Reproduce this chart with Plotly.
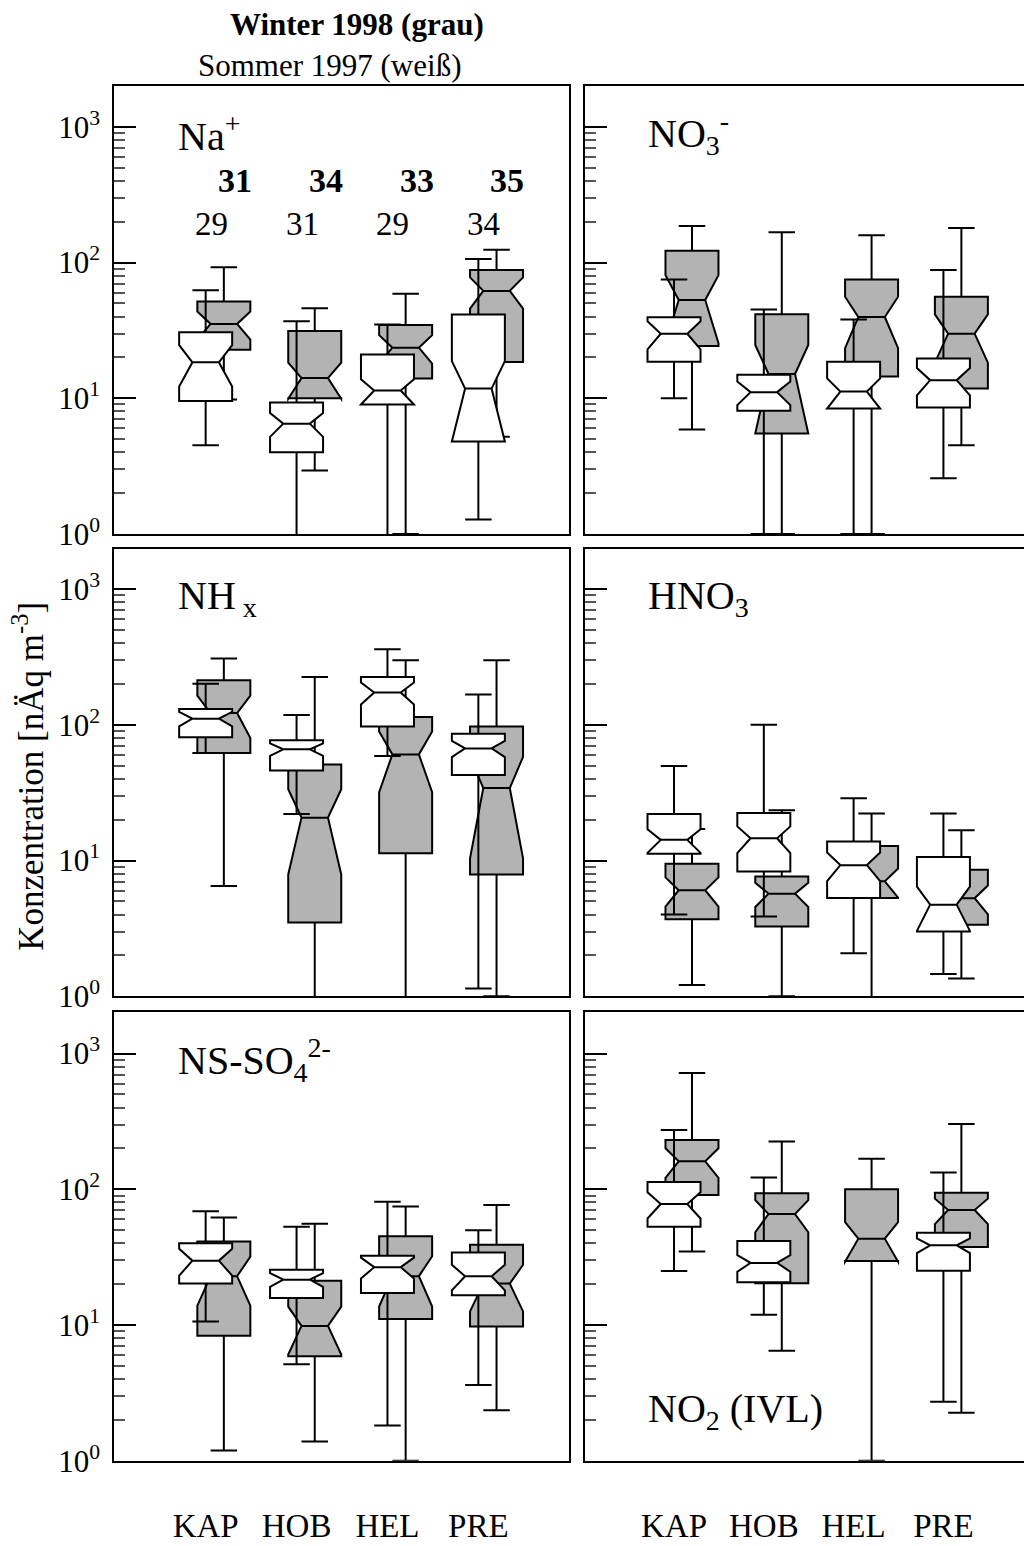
import plotly.graph_objects as go

# ---------------- data ----------------
sites = ["KAP", "HOB", "HEL", "PRE"]
panel_labels = ["Na<sup>+</sup>", "NO<sub>3</sub><sup>-</sup>", "NH<sub> x</sub>",
                "HNO<sub>3</sub>", "NS-SO<sub>4</sub><sup>2-</sup>", "NO<sub>2</sub> (IVL)"]
n_winter = [31, 34, 33, 35]
n_summer = [29, 31, 29, 34]

# rows: Na+, NO3-, NHx, HNO3, NS-SO4, NO2 ; columns: KAP, HOB, HEL, PRE
# Sommer 1997 (white)
summer_lo = [[4.5, 0.5, 0.5, 1.28], [10.0, 1.0, 1.0, 2.57], [62, 22, 59, 1.14],
             [4.0, 3.87, 2.07, 1.46], [10.6, 5.15, 1.82, 3.62], [25, 11.9, None, 2.72]]
summer_q1 = [[9.55, 4.0, 9.0, 4.8], [18.6, 8.1, 8.4, 8.55], [81, 46, 97, 42.6],
             [11.2, 8.3, 5.3, 3.0], [20.2, 15.8, 17.2, 16.6], [53, 20.7, None, 25.1]]
summer_med = [[18.4, 6.5, 11.4, 11.8], [29.9, 11.1, 11.2, 13.6], [111, 66, 173, 67],
              [14.2, 14.6, 9.25, 4.73], [29.8, 21.6, 26.7, 22.9], [78, 28.7, None, 38.7]]
summer_q3 = [[30.7, 9.3, 21.0, 41.4], [39.5, 14.9, 18.6, 19.6], [131, 77, 225, 86],
             [22.0, 22.4, 13.8, 10.6], [40.1, 25.6, 32.4, 34.3], [113, 41.6, None, 47.9]]
summer_hi = [[62.5, 37, 35, 106], [75, 45, 38, 88], [201, 118, 361, 167],
             [49.7, 100, 28.8, 22.2], [69, 53, 81, 50], [274, 122, None, 133]]
summer_notch = [[6.2, 1.3, 2.4, 7.0], [7.0, 2.2, 2.8, 3.1], [13.5, 7.0, 32, 9.2],
                [2.8, 3.25, 2.2, 1.7], [6.7, 2.5, 4.7, 4.9], [17, 4.0, None, 4.8]]

# Winter 1998 (grey)
winter_lo = [[9.8, 2.94, 1.0, 5.2], [5.9, 1.0, 1.0, 4.5], [6.5, 0.5, 0.5, 1.0],
             [1.21, 1.0, 0.5, 1.35], [1.19, 1.39, 1.0, 2.36], [34.8, 6.46, 1.0, 2.26]]
winter_q1 = [[22.8, 10.0, 14.0, 18.5], [24.3, 5.5, 14.5, 11.8], [62, 3.5, 11.3, 7.9],
             [3.7, 3.27, 5.3, 3.36], [8.34, 5.9, 11.1, 9.75], [91, 20.3, 29.6, 37.6]]
winter_med = [[35.3, 14.1, 23.6, 61.8], [53, 15.1, 39.7, 29.9], [122, 20.7, 60.5, 34.2],
              [6.04, 5.7, 7.03, 5.28], [22.9, 9.86, 22.9, 20.2], [161, 65.8, 43.3, 70.4]]
winter_q3 = [[51.7, 31.3, 34.7, 88], [122, 41.6, 75, 56], [213, 51, 114, 97],
             [9.46, 7.64, 12.8, 8.55], [41.2, 21.2, 45.1, 39], [231, 93.6, 100, 94.5]]
winter_hi = [[92.5, 46, 59, 124], [186, 167, 159, 180], [308, 225, 299, 299],
             [17.1, 23.5, 22.2, 16.7], [62, 55.7, 74.6, 76.7], [719, 225, 168, 303]]
winter_notch = [[8.3, 4.2, 5.6, 16], [27.5, 9.6, 16.3, 11.6], [42, 12.8, 28.6, 23.8],
                [1.47, 1.15, 1.7, 1.27], [9.0, 3.8, 9.2, 7.6], [39.5, 17.5, 14, 15]]

major_vals = [1, 10, 100, 1000]
major_text = ["10<sup>0</sup>", "10<sup>1</sup>", "10<sup>2</sup>", "10<sup>3</sup>"]
minor_vals = [m * d for d in (1, 10, 100) for m in range(2, 10)]

# ---------------- layout geometry ----------------
W, H = 1024, 1546
FONT = "Liberation Serif, Times New Roman, Times, serif"
col_px = [(114, 569), (585, 1024)]
row_px = [(86.7, 540.3), (555.5, 1008.0), (1023.5, 1478.0)]
PX_PER_DEC = 137.33
cat_px = [(214.75, 90.9), (683.0, 89.8)]   # first category centre, spacing (px)
OFF = 0.1
BOX_PX = 53

fig = go.Figure()
layout = dict(width=W, height=H, margin=dict(l=0, r=0, t=0, b=0),
              paper_bgcolor="white", plot_bgcolor="white", showlegend=False,
              boxmode="overlay", font=dict(family=FONT, color="black"))

annotations = []

for p in range(6):
    r, c = divmod(p, 2)
    k = p + 1
    xa = "x" if k == 1 else f"x{k}"
    ya = "y" if k == 1 else f"y{k}"
    left, right = col_px[c]
    top, bottom = row_px[r]
    c0, sp = cat_px[c]
    x0 = -(c0 - left) / sp
    x1 = x0 + (right - left) / sp
    bw = BOX_PX / sp

    for season, lo, q1, med, q3, hi, nt, fill, off in [
        ("Winter 1998", winter_lo, winter_q1, winter_med, winter_q3, winter_hi, winter_notch,
         "rgb(179,179,179)", OFF),
        ("Sommer 1997", summer_lo, summer_q1, summer_med, summer_q3, summer_hi, summer_notch,
         "white", -OFF),
    ]:
        idx = [i for i in range(4) if med[p][i] is not None]
        fig.add_trace(go.Box(
            name=season,
            x=[i + off for i in idx],
            q1=[q1[p][i] for i in idx],
            median=[med[p][i] for i in idx],
            q3=[q3[p][i] for i in idx],
            lowerfence=[lo[p][i] for i in idx],
            upperfence=[hi[p][i] for i in idx],
            notchspan=[nt[p][i] for i in idx],
            notched=True, notchwidth=0.25, whiskerwidth=0.5,
            width=bw, boxpoints=False,
            fillcolor=fill, line=dict(color="black", width=2),
            xaxis=xa, yaxis=ya, hoverinfo="skip",
        ))

    layout["xaxis" if k == 1 else f"xaxis{k}"] = dict(
        domain=[left / W, min(right / W, 1.0)], range=[x0, x1], anchor=ya,
        showline=True, linecolor="black", linewidth=1.5, mirror=True,
        showgrid=False, zeroline=False, ticks="",
        tickvals=[i - OFF for i in range(4)], ticktext=sites,
        showticklabels=(r == 2), tickfont=dict(size=33, family=FONT),
        ticklabelstandoff=35,
    )
    layout["yaxis" if k == 1 else f"yaxis{k}"] = dict(
        domain=[1 - bottom / H, 1 - top / H], type="log",
        range=[0, (bottom - top) / PX_PER_DEC], anchor=xa,
        showline=True, linecolor="black", linewidth=1.5, mirror=(c == 0),
        showgrid=False, zeroline=False,
        tickvals=major_vals, ticktext=major_text, ticks="inside",
        ticklen=22, tickwidth=1.5, tickcolor="black",
        showticklabels=(c == 0), tickfont=dict(size=31, family=FONT),
        ticklabelstandoff=6,
        minor=dict(tickvals=minor_vals, ticks="inside", ticklen=11,
                   tickwidth=1.5, tickcolor="#555", showgrid=False),
    )

# panel labels (paper coordinates from pixel positions)
label_pos = [(176, 135), (646, 135), (176, 605), (646, 605), (176, 1072), (646, 1428)]
for txt, (px, py) in zip(panel_labels, label_pos):
    annotations.append(dict(text=txt, x=px / W, y=1 - py / H, xref="paper", yref="paper",
                            xanchor="left", yanchor="middle", showarrow=False,
                            font=dict(size=40, family=FONT)))

# sample counts in the Na+ panel
for i in range(4):
    annotations.append(dict(text=f"<b>{n_winter[i]}</b>", x=i + 0.22, y=2.605, xref="x", yref="y",
                            xanchor="center", yanchor="middle",
                            showarrow=False, font=dict(size=34, family=FONT)))
    annotations.append(dict(text=str(n_summer[i]), x=i - 0.04, y=2.283, xref="x", yref="y",
                            xanchor="center", yanchor="middle",
                            showarrow=False, font=dict(size=33, family=FONT)))

# titles
annotations.append(dict(text="<b>Winter 1998 (grau)</b>", x=357 / W, y=1 - 25 / H,
                        xref="paper", yref="paper", showarrow=False,
                        xanchor="center", yanchor="middle",
                        font=dict(size=31, family=FONT)))
annotations.append(dict(text="Sommer 1997 (weiß)", x=329 / W, y=1 - 66 / H,
                        xref="paper", yref="paper", showarrow=False,
                        xanchor="center", yanchor="middle",
                        font=dict(size=31, family=FONT)))
annotations.append(dict(text="Konzentration [nÄq m<sup>-3</sup>]", x=29 / W, y=1 - 786 / H,
                        xref="paper", yref="paper", showarrow=False, textangle=-90,
                        xanchor="center", yanchor="middle",
                        font=dict(size=35, family=FONT)))

layout["annotations"] = annotations
fig.update_layout(**layout)
fig.write_html("out.html")
